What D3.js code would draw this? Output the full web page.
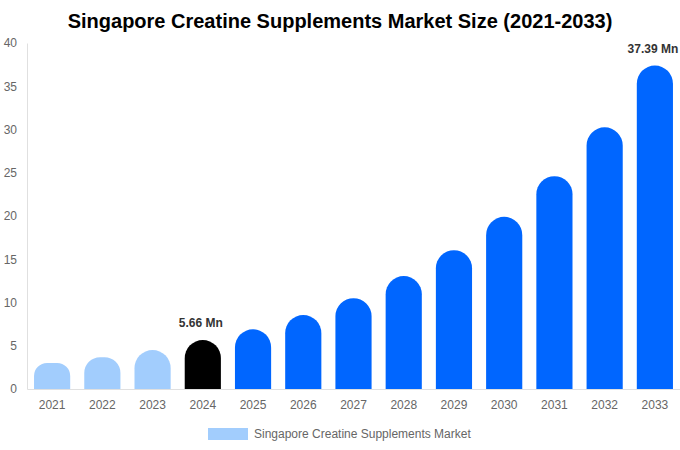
<!DOCTYPE html>
<html>
<head>
<meta charset="utf-8">
<script src="https://cdn.jsdelivr.net/npm/d3@7"></script>
<style>
  body { margin: 0; background: #fff; }
  svg { display: block; font-family: "Liberation Sans", Arial, sans-serif; }
</style>
</head>
<body>
<div id="chart"></div>
<script>
// data
var years = ["2021","2022","2023","2024","2025","2026","2027","2028","2029","2030","2031","2032","2033"];
var values = [3.02, 3.68, 4.5, 5.66, 6.9, 8.55, 10.5, 13.05, 16.05, 19.9, 24.6, 30.25, 37.39];
var kinds = ["past","past","past","base","fc","fc","fc","fc","fc","fc","fc","fc","fc"];
var yTicks = [0, 5, 10, 15, 20, 25, 30, 35, 40];
var labelled = { "2024": "5.66 Mn", "2033": "37.39 Mn" };

var W = 680, H = 450;
var margin = { top: 43, right: 0, bottom: 61, left: 27 };

var colors = { past: "#a2cdfd", base: "#000000", fc: "#0066ff" };

var svg = d3.select("#chart").append("svg").attr("width", W).attr("height", H);

svg.append("text")
  .attr("x", W / 2 + 0).attr("y", 28)
  .attr("text-anchor", "middle")
  .style("font-size", "20px").style("font-weight", "bold").style("fill", "#000")
  .text("Singapore Creatine Supplements Market Size (2021-2033)");

var x = d3.scaleBand().domain(years)
  .range([margin.left, W - margin.right]).paddingInner(0.28).paddingOuter(0.14);
var y = d3.scaleLinear().domain([0, 40]).range([H - margin.bottom, margin.top]);

// axes
var yAxis = svg.append("g").attr("transform", "translate(" + margin.left + ",0)")
  .call(d3.axisLeft(y).tickValues(yTicks).tickSize(0).tickPadding(10));
yAxis.select(".domain").attr("stroke", "#e0e0e0");
yAxis.selectAll("text").style("font-size", "12px").style("fill", "#666");

var xAxis = svg.append("g").attr("transform", "translate(0," + (H - margin.bottom) + ")")
  .call(d3.axisBottom(x).tickSize(0).tickPadding(11));
xAxis.select(".domain").attr("stroke", "#e0e0e0");
xAxis.selectAll("text").style("font-size", "12px").style("fill", "#666");

// rounded-top bars (corner radius capped for short bars)
function barPath(d, i) {
  var x0 = x(d), w = x.bandwidth();
  var top = y(values[i]), base = y(0);
  var h = base - top;
  var r = Math.min(w / 2, h / 2);
  return "M" + x0 + "," + base +
    "V" + (top + r) +
    "A" + r + "," + r + " 0 0 1 " + (x0 + r) + "," + top +
    "H" + (x0 + w - r) +
    "A" + r + "," + r + " 0 0 1 " + (x0 + w) + "," + (top + r) +
    "V" + base + "Z";
}

svg.append("g").selectAll("path").data(years).enter().append("path")
  .attr("d", barPath)
  .attr("fill", function (d, i) { return colors[kinds[i]]; });

svg.append("g").selectAll("text").data(years.filter(function (d) { return labelled[d]; }))
  .enter().append("text")
  .attr("x", function (d) { return x(d) + x.bandwidth() / 2 - 2; })
  .attr("y", function (d) { return y(values[years.indexOf(d)]) - 13; })
  .attr("text-anchor", "middle")
  .style("font-size", "12px").style("font-weight", "bold").style("fill", "#333")
  .text(function (d) { return labelled[d]; });

// legend
var lg = svg.append("g").attr("transform", "translate(208,428)");
lg.append("rect").attr("width", 40).attr("height", 12).attr("fill", colors.past);
lg.append("text").attr("x", 46).attr("y", 10)
  .style("font-size", "12px").style("fill", "#666")
  .text("Singapore Creatine Supplements Market");
</script>
</body>
</html>
